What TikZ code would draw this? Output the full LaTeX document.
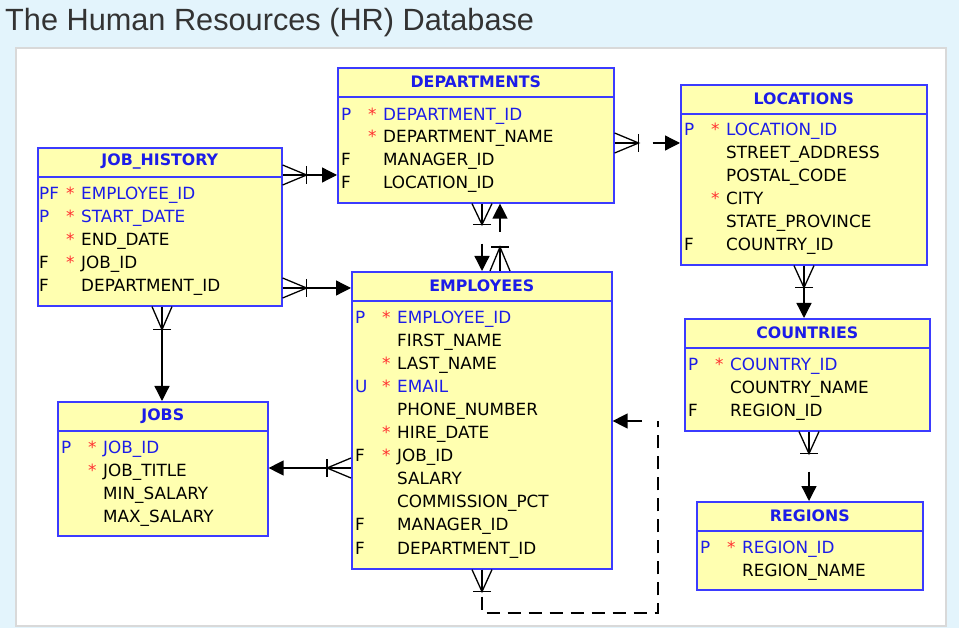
\documentclass[tikz,border=0pt]{standalone}
\usepackage{fontspec}
\setmainfont{DejaVu Sans}
\newfontfamily\titlefont{Liberation Sans}
\usetikzlibrary{arrows.meta,calc}
\definecolor{bgblue}{HTML}{E3F4FC}
\definecolor{tblfill}{HTML}{FFFFB0}
\definecolor{tbldraw}{HTML}{3B3BFF}
\definecolor{keyblue}{HTML}{1C1CE8}
\definecolor{starred}{HTML}{FF3030}
\definecolor{titlegray}{HTML}{333333}
\newcommand\ertable[8]{% #1 name, #2 left, #3 top, #4 right, #5 bottom, #6 header line y, #7 title, #8 dummy
  \node[tbl, minimum width={(#4)-(#2)}, minimum height={(#5)-(#3)}] (#1) at (#2,#3) {};
  \draw[tbldraw, line width=1.6pt] (#1.west |- 0,#6) -- (#1.east |- 0,#6);
  \node[hdr] (#1-title) at ($(#1.north)!0.5!(#1.north |- 0,#6)$) {#7};
}
\newcommand\frow[7]{% #1 name, #2 left, #3 centre y, #4 key, #5 star, #6 text, #7 colour
  \node[fld, text=#7] (#1-k) at ({#2+4},{#3+6.5}) {#4};
  \node[fld, text=starred] (#1-s) at ({#2+31},{#3+6.5}) {#5};
  \node[fld, text=#7] (#1-t) at ({#2+46},{#3+6.5}) {#6};
}
\newcommand\crowfoot[5]{% #1 edge point, #2 apex name, #3 dx, #4 dy, #5 distance
  \coordinate (#2) at ($(#1)+({(#3)*(#5)},{(#4)*(#5)})$);
  \draw[conn] ($(#1)+({(#4)*10},{0-(#3)*10})$) -- (#2) -- ($(#1)+({0-(#4)*10},{(#3)*10})$);
  \draw[conn] (#1) -- (#2);
  \draw[conn] ($(#2)+({(#4)*9},{0-(#3)*9})$) -- ($(#2)+({0-(#4)*9},{(#3)*9})$);
}
\begin{document}
\begin{tikzpicture}[x=1pt,y=-1pt,
  tbl/.style={draw=tbldraw, line width=1.6pt, fill=tblfill, anchor=north west, inner sep=0pt},
  hdr/.style={font=\fontsize{15.8}{18}\selectfont\bfseries, text=keyblue, inner sep=0pt},
  fld/.style={font=\fontsize{16.8}{18}\selectfont, anchor=base west, inner sep=0pt},
  conn/.style={line width=1.3pt, black},
  tip/.style={-{Triangle[length=15pt,width=15pt]}}
]
\useasboundingbox (0,0) rectangle (959,628);
\fill[bgblue] (0,0) rectangle (959,628);
\node[font=\titlefont\fontsize{30.7}{34}\selectfont, text=titlegray, anchor=base west, inner sep=0pt] (title) at (5,31) {The Human Resources (HR) Database};
\draw[fill=white, draw=black!15, line width=2pt] (16,48) rectangle (946,626);

% DEPARTMENTS
\ertable{dept}{337}{67}{613}{202}{97}{DEPARTMENTS}{}
\frow{d1}{337}{114}{P}{*}{DEPARTMENT\_ID}{keyblue}
\frow{d2}{337}{136}{}{*}{DEPARTMENT\_NAME}{black}
\frow{d3}{337}{159}{F}{}{MANAGER\_ID}{black}
\frow{d4}{337}{182}{F}{}{LOCATION\_ID}{black}

% LOCATIONS
\ertable{loc}{680}{84}{926}{264}{114}{LOCATIONS}{}
\frow{l1}{680}{129}{P}{*}{LOCATION\_ID}{keyblue}
\frow{l2}{680}{152}{}{}{STREET\_ADDRESS}{black}
\frow{l3}{680}{175}{}{}{POSTAL\_CODE}{black}
\frow{l4}{680}{198}{}{*}{CITY}{black}
\frow{l5}{680}{221}{}{}{STATE\_PROVINCE}{black}
\frow{l6}{680}{244}{F}{}{COUNTRY\_ID}{black}

% JOB_HISTORY
\ertable{jh}{37}{147}{281}{305}{177}{JOB\_HISTORY}{}
\frow{h1}{35}{193}{PF}{*}{EMPLOYEE\_ID}{keyblue}
\frow{h2}{35}{216}{P}{*}{START\_DATE}{keyblue}
\frow{h3}{35}{239}{}{*}{END\_DATE}{black}
\frow{h4}{35}{262}{F}{*}{JOB\_ID}{black}
\frow{h5}{35}{285}{F}{}{DEPARTMENT\_ID}{black}

% EMPLOYEES
\ertable{emp}{351}{271}{611}{568}{301}{EMPLOYEES}{}
\frow{e1}{351}{317}{P}{*}{EMPLOYEE\_ID}{keyblue}
\frow{e2}{351}{340}{}{}{FIRST\_NAME}{black}
\frow{e3}{351}{363}{}{*}{LAST\_NAME}{black}
\frow{e4}{351}{386}{U}{*}{EMAIL}{keyblue}
\frow{e5}{351}{409}{}{}{PHONE\_NUMBER}{black}
\frow{e6}{351}{432}{}{*}{HIRE\_DATE}{black}
\frow{e7}{351}{455}{F}{*}{JOB\_ID}{black}
\frow{e8}{351}{478}{}{}{SALARY}{black}
\frow{e9}{351}{501}{}{}{COMMISSION\_PCT}{black}
\frow{e10}{351}{524}{F}{}{MANAGER\_ID}{black}
\frow{e11}{351}{548}{F}{}{DEPARTMENT\_ID}{black}

% JOBS
\ertable{jobs}{57}{401}{267}{535}{431}{JOBS}{}
\frow{j1}{57}{447}{P}{*}{JOB\_ID}{keyblue}
\frow{j2}{57}{470}{}{*}{JOB\_TITLE}{black}
\frow{j3}{57}{493}{}{}{MIN\_SALARY}{black}
\frow{j4}{57}{516}{}{}{MAX\_SALARY}{black}

% COUNTRIES
\ertable{ctry}{684}{318}{929}{430}{348}{COUNTRIES}{}
\frow{c1}{684}{364}{P}{*}{COUNTRY\_ID}{keyblue}
\frow{c2}{684}{387}{}{}{COUNTRY\_NAME}{black}
\frow{c3}{684}{410}{F}{}{REGION\_ID}{black}

% REGIONS
\ertable{reg}{696}{501}{922}{589}{531}{REGIONS}{}
\frow{r1}{696}{547}{P}{*}{REGION\_ID}{keyblue}
\frow{r2}{696}{570}{}{}{REGION\_NAME}{black}

% connectors
\coordinate (e1) at (jh.east |- 0,175);
\crowfoot{e1}{a1}{1}{0}{24}
\draw[conn,tip] (a1) -- (dept.west |- a1);

\coordinate (e2) at (dept.east |- 0,143);
\crowfoot{e2}{a2}{1}{0}{24}
\draw[conn,tip] ($(a2)+(14,0)$) -- (loc.west |- a2);

\coordinate (e3) at (dept.south -| 482,0);
\crowfoot{e3}{a3}{0}{1}{21}
\draw[conn,tip] ($(a3)+(0,19)$) -- (emp.north -| a3);

\coordinate (e4) at (emp.north -| 500,0);
\crowfoot{e4}{a4}{0}{-1}{24}
\draw[conn,tip] ($(a4)+(0,-15)$) -- (dept.south -| a4);

\coordinate (e5) at (jh.east |- 0,288);
\crowfoot{e5}{a5}{1}{0}{24}
\draw[conn,tip] (a5) -- (emp.west |- a5);

\coordinate (e6) at (jh.south -| 162,0);
\crowfoot{e6}{a6}{0}{1}{23}
\draw[conn,tip] (a6) -- (jobs.north -| a6);

\coordinate (e7) at (emp.west |- 0,468);
\crowfoot{e7}{a7}{-1}{0}{24}
\draw[conn,tip] (a7) -- (jobs.east |- a7);

\coordinate (e8) at (loc.south -| 804,0);
\crowfoot{e8}{a8}{0}{1}{22}
\draw[conn,tip] (a8) -- (ctry.north -| a8);

\coordinate (e9) at (ctry.south -| 809,0);
\crowfoot{e9}{a9}{0}{1}{22}
\draw[conn,tip] ($(a9)+(0,18)$) -- (reg.north -| a9);

\coordinate (e10) at (emp.south -| 482,0);
\crowfoot{e10}{a10}{0}{1}{22}
\coordinate (k1) at (658,613);
\coordinate (k2) at (658,421);
\draw[conn, dash pattern=on 13pt off 8pt] ($(a10)+(0,5)$) -- (a10 |- k1) -- (k1) -- (k2);
\draw[conn,tip] ($(k2)+(-16,0)$) -- (emp.east |- k2);
\end{tikzpicture}
\end{document}
